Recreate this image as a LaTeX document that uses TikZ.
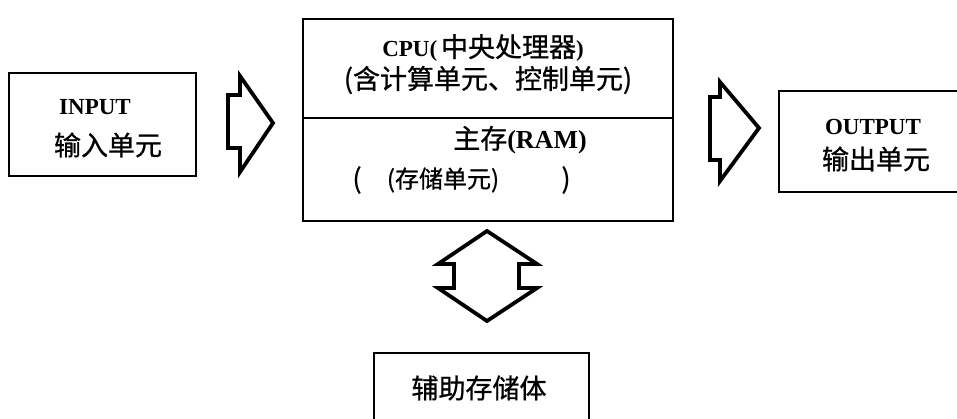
\documentclass[tikz,border=0pt]{standalone}
\usepackage{fontspec}
\setmainfont{Liberation Serif}
\newfontfamily\cjk[FakeBold=0.8]{Noto Sans CJK SC}
\begin{document}
\begin{tikzpicture}[x=1pt,y=-1pt,
  box/.style={draw,line width=1.8pt,inner sep=0pt,anchor=north west},
  lat/.style={inner sep=0pt,font=\bfseries\fontsize{23}{26}\selectfont},
  zh/.style={inner sep=0pt,font=\cjk\fontsize{27}{32}\selectfont},
  blockarrow/.style={draw,line width=3.8pt,line join=miter,fill=white}]
\useasboundingbox (0,0) rectangle (957,419);
\begin{scope}
\clip (0,0) rectangle (957,419);
% boxes
\node[box,minimum width=187pt,minimum height=103pt] (in) at (8,72) {};
\node[box,minimum width=370pt,minimum height=202pt] (cpu) at (302,18) {};
\node[box,minimum width=200pt,minimum height=101pt] (out) at (778,90) {};
\node[box,minimum width=215pt,minimum height=80pt] (aux) at (373,352) {};
\end{scope}
\coordinate (dl) at (302,118);
\coordinate (dr) at (672,118);
\draw[line width=1.8pt] (dl) -- (dr);
% texts
\node[lat] (t1) at (95,107) {INPUT};
\node[zh] (t2) at (108,145) {输入单元};
\node[inner sep=0pt,font=\bfseries\fontsize{23}{26}\selectfont] (t3) at (483,48) {CPU(\,{\cjk\mdseries\fontsize{27}{32}\selectfont 中央处理器})};
\node[zh] (t4) at (488,80) {(含计算单元、控制单元)};
\node[zh] (t5) at (520,140) {主存{\rmfamily\bfseries\fontsize{26}{30}\selectfont(RAM)}};
\node[zh] (t6l) at (357,180) {(};
\node[zh,font=\cjk\fontsize{24}{28}\selectfont] (t6) at (443,180) {(存储单元)};
\node[zh] (t6r) at (566,180) {)};
\node[lat] (t7) at (873,127) {OUTPUT};
\node[zh] (t8) at (876,159) {输出单元};
\node[zh] (t9) at (479,388) {辅助存储体};
% block arrows
\draw[blockarrow] (228,95) -- (240,95) -- (240,76) -- (273,123) -- (240,172) -- (240,148) -- (228,148) -- cycle;
\draw[blockarrow] (710,97) -- (720,97) -- (720,82) -- (759,128) -- (720,181) -- (720,160) -- (710,160) -- cycle;
\draw[blockarrow] (487,231) -- (537,264) -- (519,264) -- (519,288) -- (537,288) -- (487,321) -- (438,288) -- (454,288) -- (454,264) -- (438,264) -- cycle;
\end{tikzpicture}
\end{document}
